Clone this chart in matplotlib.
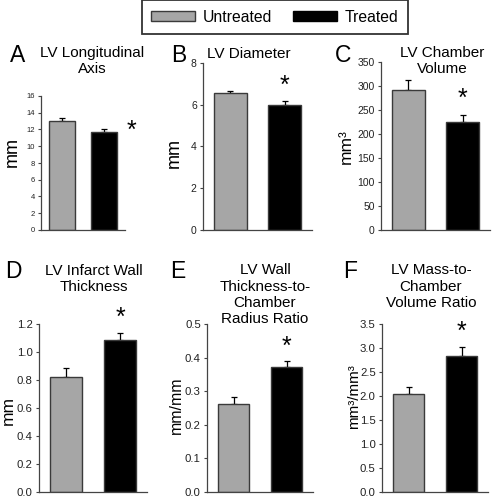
import matplotlib
matplotlib.use("Agg")
import matplotlib.pyplot as plt
from matplotlib.patches import Patch

plt.rcParams['font.family'] = ['Liberation Sans', 'DejaVu Sans']

groups = ["Untreated", "Treated"]
colors = ["#a6a6a6", "#000000"]

letters = ["A", "B", "C", "D", "E", "F"]
titles = [
    ["LV Longitudinal", "Axis"],
    ["LV Diameter"],
    ["LV Chamber", "Volume"],
    ["LV Infarct Wall", "Thickness"],
    ["LV Wall", "Thickness-to-", "Chamber", "Radius Ratio"],
    ["LV Mass-to-", "Chamber", "Volume Ratio"],
]
ylabels = ["mm", "mm", "mm³", "mm", "mm/mm", "mm³/mm³"]

means_untreated = [13.05, 6.54, 292, 0.823, 0.262, 2.03]
means_treated = [11.67, 6.00, 225, 1.086, 0.372, 2.83]
err_untreated = [0.35, 0.13, 20, 0.06, 0.019, 0.15]
err_treated = [0.35, 0.16, 15, 0.048, 0.018, 0.20]

ymax = [16, 8, 350, 1.2, 0.5, 3.5]
ystep = [2, 2, 50, 0.2, 0.1, 0.5]
tick_fmt = ["{:.0f}", "{:.0f}", "{:.0f}", "{:.1f}", "{:.1f}", "{:.1f}"]

W, H = 492, 498
fig = plt.figure(figsize=(W / 100, H / 100), dpi=100)

def fx(px):
    return px / W

def fy(py):
    return 1 - py / H

# axes boxes in pixels: left, right, top, bottom
boxes = [
    (41, 125, 96, 230),
    (203, 312, 63, 230),
    (381, 490, 62, 230),
    (39, 147, 324, 491.7),
    (207, 313, 324, 491.7),
    (382, 488, 324, 491.7),
]
tick_sizes = [5.5, 7.5, 7.5, 8.2, 8.2, 8.2]
ylabel_sizes = [13, 13, 12.5, 12.5, 11.5, 11]
ylabel_x = [21, 183, 354, 16, 184, 361]  # right edge of label (px)
ylabel_yc = [152, 153, 147, 410, 405, 397]
title_cx = [92, 249, 442, 94, 265, 431]
title_base = [[57, 73], [58], [57, 73], [275, 291], [274, 291, 307, 323], [274, 291, 307]]
letter_pos = [(10, 62), (171, 62), (335, 62), (5, 278), (170, 278), (343, 278)]
star_off = [(23, -2), (0, 16), (0, 16), (0, 15), (0, 14), (0, 15)]
star_ha = ["left", "center", "center", "center", "center", "center"]

for i in range(6):
    l, r, t, b = boxes[i]
    ax = fig.add_axes([fx(l), fy(b), (r - l) / W, (b - t) / H])
    x = [0, 1]
    vals = [means_untreated[i], means_treated[i]]
    errs = [err_untreated[i], err_treated[i]]
    ax.bar(x, vals, width=0.6, color=colors, edgecolor="#3a3a3a", linewidth=1.0, zorder=2)
    ax.errorbar(x, vals, yerr=[[0, 0], errs], fmt="none", ecolor="black",
                elinewidth=0.9, capsize=2.5, capthick=0.9, zorder=1)
    ax.set_xlim(-0.5, 1.5)
    ax.set_ylim(0, ymax[i])
    n = int(round(ymax[i] / ystep[i]))
    ticks = [k * ystep[i] for k in range(n + 1)]
    ax.set_yticks(ticks)
    ax.set_yticklabels([tick_fmt[i].format(v) for v in ticks], fontsize=tick_sizes[i], color="#222222")
    ax.set_xticks([])
    for s in ["top", "right"]:
        ax.spines[s].set_visible(False)
    for s in ["left", "bottom"]:
        ax.spines[s].set_color("#444444")
        ax.spines[s].set_linewidth(0.9)
    ax.tick_params(axis="y", length=2.5, width=0.8, color="#444444", pad=2)
    ax.set_ylabel(ylabels[i], fontsize=ylabel_sizes[i])
    ax.yaxis.set_label_coords((ylabel_x[i] - l) / (r - l), (b - ylabel_yc[i]) / (b - t))

    # significance asterisk above treated bar
    ox, oy = star_off[i]
    ax.annotate("*", xy=(1, vals[1] + errs[1]), xytext=(ox, oy), textcoords="offset pixels",
                ha=star_ha[i], va="center", fontsize=18, annotation_clip=False)

    # titles and panel letters
    for line, yb in zip(titles[i], title_base[i]):
        fig.text(fx(title_cx[i]), fy(yb), line, ha="center", va="baseline", fontsize=11)
    lx, ly = letter_pos[i]
    fig.text(fx(lx), fy(ly), letters[i], ha="left", va="baseline", fontsize=16.5)

handles = [Patch(facecolor=colors[0], edgecolor="#3a3a3a", linewidth=1.0),
           Patch(facecolor=colors[1], edgecolor="#000000", linewidth=1.0)]
leg = fig.legend(handles, groups, loc="center", bbox_to_anchor=(fx(275), fy(17)), ncol=2,
                 fontsize=11.3, frameon=True, fancybox=False, edgecolor="black",
                 handlelength=2.8, handleheight=0.7, handletextpad=0.5,
                 columnspacing=1.3, borderpad=0.6)
leg.get_frame().set_linewidth(1.3)

fig.savefig("out.png", dpi=100)
